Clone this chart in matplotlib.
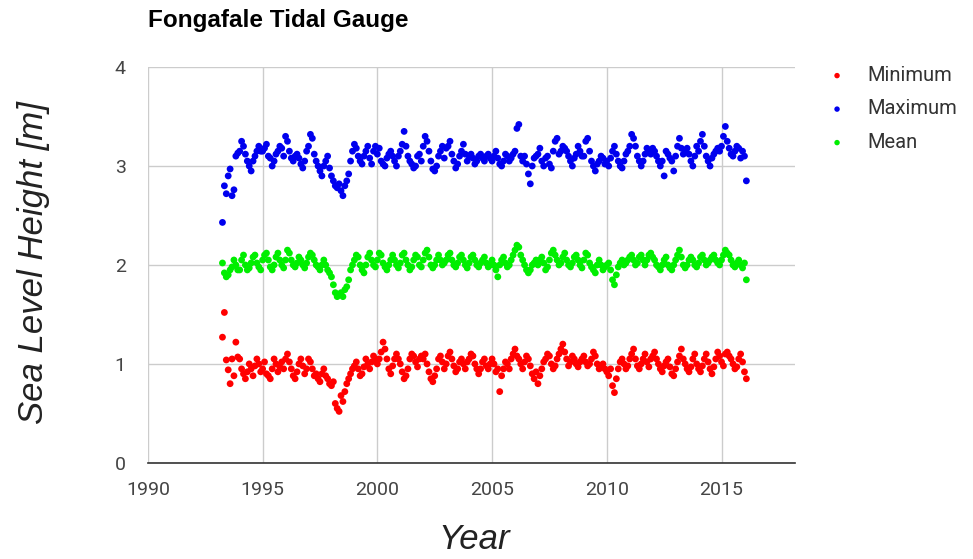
import numpy as np
import pandas as pd
import matplotlib
matplotlib.use("Agg")
import matplotlib.pyplot as plt

# monthly tide gauge statistics, April 1993 - February 2016 (metres)
start_month = "1993-04"

minimum = [
    1.27, 1.52, 1.04, 0.94, 0.80, 1.05, 0.88, 1.22, 1.07,                    # 1993
    1.05, 0.95, 0.90, 0.85, 0.92, 1.00, 0.95, 0.88, 0.98, 1.05, 1.00, 0.92,  # 1994
    0.95, 1.02, 0.90, 0.88, 0.85, 0.95, 1.05, 1.00, 0.92, 0.97, 1.02, 0.95,  # 1995
    1.05, 1.10, 1.02, 0.95, 0.88, 0.85, 0.92, 1.00, 1.05, 0.98, 0.90, 0.95,  # 1996
    1.05, 1.02, 0.95, 0.88, 0.90, 0.85, 0.82, 0.90, 0.95, 0.88, 0.85, 0.80,  # 1997
    0.78, 0.82, 0.60, 0.55, 0.52, 0.68, 0.62, 0.72, 0.80, 0.85, 0.90, 0.95,  # 1998
    0.98, 1.02, 0.95, 0.88, 0.90, 0.97, 1.05, 1.00, 0.95, 1.02, 1.08, 1.05,  # 1999
    1.00, 1.05, 1.12, 1.22, 1.15, 1.05, 0.95, 0.90, 0.98, 1.05, 1.10, 1.05,  # 2000
    1.00, 0.92, 0.85, 0.88, 0.95, 1.05, 1.10, 1.08, 1.02, 0.97, 1.05, 1.08,  # 2001
    1.05, 1.10, 1.00, 0.92, 0.85, 0.82, 0.88, 0.95, 1.05, 1.08, 1.02, 0.95,  # 2002
    1.00, 1.08, 1.12, 1.05, 0.98, 0.92, 0.95, 1.02, 1.05, 1.00, 0.95, 1.02,  # 2003
    1.05, 1.10, 1.08, 1.00, 0.95, 0.90, 0.95, 1.02, 1.05, 0.98, 0.95, 1.00,  # 2004
    1.05, 1.00, 0.92, 0.95, 0.72, 0.88, 0.95, 1.02, 1.00, 0.95, 1.05, 1.10,  # 2005
    1.15, 1.08, 1.05, 1.00, 0.95, 1.02, 1.08, 1.05, 0.98, 0.90, 0.85, 0.92,  # 2006
    0.80, 0.88, 0.95, 1.02, 1.05, 1.10, 1.08, 1.00, 0.95, 0.98, 1.05, 1.10,  # 2007
    1.15, 1.20, 1.12, 1.05, 0.98, 1.02, 1.08, 1.05, 1.00, 0.97, 1.02, 1.05,  # 2008
    1.08, 1.02, 0.98, 1.00, 1.05, 1.12, 1.08, 1.00, 0.95, 0.98, 1.00, 0.95,  # 2009
    0.92, 0.88, 0.95, 0.78, 0.71, 0.85, 0.95, 1.02, 1.05, 1.00, 0.95, 0.98,  # 2010
    1.05, 1.10, 1.15, 1.05, 0.98, 0.95, 1.00, 1.05, 1.10, 1.02, 0.97, 1.05,  # 2011
    1.08, 1.12, 1.05, 1.00, 0.95, 0.92, 0.98, 1.02, 1.05, 0.97, 0.90, 0.88,  # 2012
    0.95, 1.02, 1.08, 1.15, 1.05, 1.00, 0.95, 0.92, 0.97, 1.05, 1.10, 1.00,  # 2013
    0.95, 0.92, 0.98, 1.05, 1.10, 1.02, 0.95, 0.90, 0.97, 1.05, 1.12, 1.08,  # 2014
    1.02, 0.98, 1.10, 1.12, 1.08, 1.05, 1.00, 0.95, 0.97, 1.05, 1.10, 1.02,  # 2015
    0.92, 0.85,                                                              # 2016
]

maximum = [
    2.43, 2.80, 2.72, 2.90, 2.97, 2.70, 2.76, 3.10, 3.13,                    # 1993
    3.15, 3.25, 3.20, 3.12, 3.05, 3.00, 2.95, 3.05, 3.10, 3.15, 3.20, 3.15,  # 1994
    3.15, 3.18, 3.22, 3.10, 3.08, 3.00, 3.05, 3.12, 3.15, 3.20, 3.18, 3.10,  # 1995
    3.30, 3.25, 3.15, 3.08, 3.05, 3.10, 3.12, 3.08, 3.02, 2.98, 3.05, 3.15,  # 1996
    3.20, 3.32, 3.28, 3.12, 3.05, 3.00, 2.95, 2.90, 3.00, 3.05, 3.10, 2.98,  # 1997
    2.90, 2.85, 2.80, 2.78, 2.82, 2.75, 2.70, 2.80, 2.85, 2.92, 3.05, 3.15,  # 1998
    3.22, 3.18, 3.10, 3.05, 3.02, 3.10, 3.15, 3.20, 3.08, 3.02, 3.15, 3.20,  # 1999
    3.12, 3.18, 3.05, 3.02, 3.00, 3.08, 3.12, 3.15, 3.10, 3.05, 3.00, 3.10,  # 2000
    3.15, 3.22, 3.35, 3.20, 3.10, 3.05, 3.02, 2.98, 3.00, 3.10, 3.12, 3.05,  # 2001
    3.20, 3.30, 3.25, 3.15, 3.05, 2.97, 2.95, 3.00, 3.10, 3.15, 3.20, 3.08,  # 2002
    3.18, 3.20, 3.25, 3.12, 3.05, 2.98, 3.02, 3.10, 3.15, 3.22, 3.12, 3.05,  # 2003
    3.10, 3.12, 3.08, 3.02, 3.05, 3.10, 3.12, 3.08, 3.05, 3.10, 3.12, 3.08,  # 2004
    3.05, 3.10, 3.15, 3.08, 3.02, 3.00, 3.05, 3.12, 3.10, 3.05, 3.08, 3.12,  # 2005
    3.15, 3.38, 3.42, 3.10, 3.05, 3.10, 3.02, 2.92, 2.82, 3.00, 3.08, 3.10,  # 2006
    3.12, 3.18, 3.05, 3.00, 3.08, 3.10, 3.02, 2.98, 3.15, 3.25, 3.28, 3.12,  # 2007
    3.15, 3.20, 3.18, 3.15, 3.10, 3.05, 3.00, 3.08, 3.12, 3.20, 3.15, 3.10,  # 2008
    3.10, 3.25, 3.28, 3.15, 3.05, 3.00, 2.95, 3.02, 3.05, 3.10, 3.08, 3.02,  # 2009
    3.05, 3.00, 3.08, 3.15, 3.20, 3.12, 3.05, 3.00, 2.98, 3.05, 3.12, 3.15,  # 2010
    3.20, 3.32, 3.28, 3.20, 3.10, 3.05, 3.00, 3.05, 3.12, 3.18, 3.15, 3.12,  # 2011
    3.18, 3.15, 3.10, 3.05, 3.00, 3.05, 2.90, 3.15, 3.12, 3.08, 3.05, 2.95,  # 2012
    3.10, 3.20, 3.28, 3.18, 3.12, 3.15, 3.18, 3.12, 3.05, 3.00, 3.10, 3.20,  # 2013
    3.15, 3.25, 3.32, 3.20, 3.10, 3.05, 3.00, 3.08, 3.12, 3.15, 3.18, 3.15,  # 2014
    3.20, 3.30, 3.40, 3.25, 3.18, 3.12, 3.10, 3.15, 3.20, 3.18, 3.08, 3.15,  # 2015
    3.10, 2.85,                                                              # 2016
]

mean = [
    2.02, 1.92, 1.88, 1.90, 1.95, 1.98, 2.05, 2.00, 1.95,                    # 1993
    1.95, 2.05, 2.10, 2.00, 1.95, 1.97, 2.02, 2.08, 2.10, 2.02, 1.98, 1.95,  # 1994
    2.05, 2.10, 2.12, 2.05, 1.98, 1.95, 2.00, 2.08, 2.12, 2.05, 2.00, 1.97,  # 1995
    2.05, 2.15, 2.12, 2.05, 2.00, 1.98, 2.02, 2.08, 2.05, 2.00, 1.97, 2.02,  # 1996
    2.08, 2.12, 2.10, 2.05, 2.00, 1.98, 1.95, 2.00, 2.05, 2.00, 1.95, 1.92,  # 1997
    1.88, 1.80, 1.72, 1.68, 1.70, 1.72, 1.68, 1.75, 1.78, 1.85, 1.95, 2.00,  # 1998
    2.05, 2.10, 2.08, 2.00, 1.95, 1.92, 2.00, 2.08, 2.12, 2.05, 2.00, 1.98,  # 1999
    2.05, 2.12, 2.10, 2.02, 1.98, 1.95, 2.00, 2.05, 2.10, 2.05, 2.00, 1.97,  # 2000
    2.02, 2.10, 2.12, 2.05, 2.00, 1.95, 1.98, 2.05, 2.10, 2.08, 2.00, 1.98,  # 2001
    2.05, 2.12, 2.15, 2.08, 2.00, 1.97, 2.00, 2.05, 2.10, 2.05, 2.00, 2.02,  # 2002
    2.05, 2.10, 2.12, 2.05, 2.00, 1.98, 2.02, 2.08, 2.10, 2.05, 2.00, 1.97,  # 2003
    2.02, 2.08, 2.10, 2.05, 2.00, 1.98, 2.02, 2.05, 2.08, 2.02, 1.98, 2.00,  # 2004
    2.05, 2.00, 1.95, 1.88, 2.00, 2.05, 2.08, 2.02, 1.98, 2.00, 2.05, 2.10,  # 2005
    2.15, 2.20, 2.18, 2.10, 2.05, 2.00, 1.95, 1.92, 1.95, 2.00, 2.02, 2.05,  # 2006
    2.00, 2.05, 2.08, 2.02, 1.95, 1.98, 2.05, 2.12, 2.15, 2.10, 2.05, 2.00,  # 2007
    2.02, 2.08, 2.12, 2.05, 2.00, 1.98, 2.02, 2.08, 2.10, 2.05, 2.00, 1.97,  # 2008
    2.05, 2.12, 2.10, 2.02, 1.98, 1.95, 1.92, 2.00, 2.05, 2.00, 1.95, 1.98,  # 2009
    2.00, 2.02, 1.95, 1.85, 1.80, 1.90, 1.98, 2.02, 2.05, 2.00, 2.02, 2.05,  # 2010
    2.08, 2.10, 2.05, 2.00, 2.02, 2.08, 2.10, 2.05, 2.00, 2.05, 2.10, 2.12,  # 2011
    2.08, 2.05, 2.00, 1.98, 1.95, 2.00, 2.05, 2.08, 2.00, 1.97, 1.95, 2.00,  # 2012
    2.05, 2.10, 2.15, 2.08, 2.00, 1.97, 2.00, 2.05, 2.08, 2.05, 2.00, 1.98,  # 2013
    2.02, 2.08, 2.10, 2.05, 2.00, 2.02, 2.05, 2.08, 2.10, 2.05, 2.02, 2.00,  # 2014
    2.05, 2.10, 2.15, 2.12, 2.10, 2.05, 2.00, 1.98, 2.02, 2.05, 2.00, 1.97,  # 2015
    2.02, 1.85,                                                              # 2016
]

# decimal year for each monthly sample
dates = pd.date_range(start_month, periods=len(mean), freq="MS")
years = dates.year + (dates.month - 1) / 12.0

plt.rcParams["font.family"] = ["Liberation Sans", "DejaVu Sans"]

fig = plt.figure(figsize=(9.73, 5.59), dpi=100)
ax = fig.add_axes([0.152, 0.172, 0.665, 0.708])

ms = 24
ax.scatter(years, minimum, s=ms, color="#ff0000", edgecolors="none", label="Minimum", zorder=3)
ax.scatter(years, maximum, s=ms, color="#0000ee", edgecolors="none", label="Maximum", zorder=3)
ax.scatter(years, mean, s=ms, color="#00ee00", edgecolors="none", label="Mean", zorder=3)

ax.set_xlim(1990, 2018.2)
ax.set_ylim(0, 4)
ax.set_xticks([1990, 1995, 2000, 2005, 2010, 2015])
ax.set_yticks([0, 1, 2, 3, 4])
ax.grid(True, color="#cccccc", linewidth=1)
ax.set_axisbelow(True)
for side in ["top", "right", "left"]:
    ax.spines[side].set_visible(False)
ax.spines["bottom"].set_color("#333333")
ax.spines["bottom"].set_linewidth(1.2)
ax.tick_params(length=0, labelsize=14, labelcolor="#444444")
ax.tick_params(axis="x", pad=13)
ax.tick_params(axis="y", pad=16)
for lab in ax.get_xticklabels() + ax.get_yticklabels():
    lab.set_family(["Roboto", "DejaVu Sans"])

ax.set_xlabel("Year", fontsize=25, style="italic", color="#222222")
ax.set_ylabel("Sea Level Height [m]", fontsize=25, style="italic", color="#222222")
ax.xaxis.set_label_coords(0.504, -0.152)
ax.yaxis.set_label_coords(-0.151, 0.506)
fig.text(0.152, 0.952, "Fongafale Tidal Gauge", fontsize=17.5, fontweight="bold",
         ha="left", va="baseline")

leg = ax.legend(loc="upper left", bbox_to_anchor=(1.0495, 1.003), frameon=False,
                fontsize=14.5, markerscale=0.8, handlelength=1.0, handletextpad=1.0,
                labelspacing=0.72, borderpad=0, borderaxespad=0)
for t in leg.get_texts():
    t.set_color("#333333")
    t.set_family(["Roboto", "DejaVu Sans"])

fig.savefig("out.png", dpi=100)
